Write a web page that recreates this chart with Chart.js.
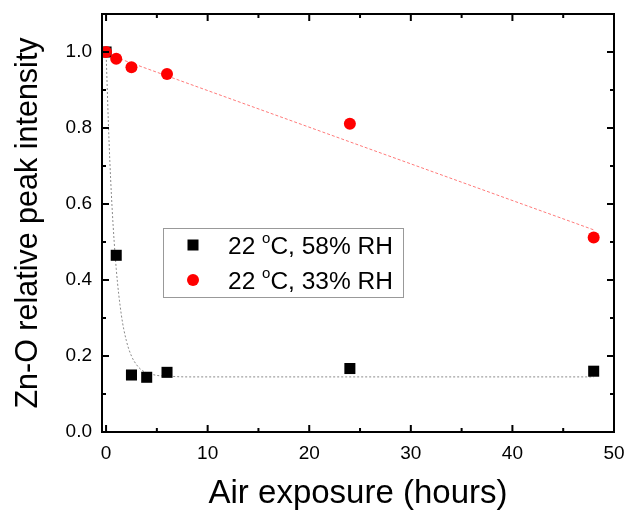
<!DOCTYPE html>
<html><head><meta charset="utf-8">
<script src="https://cdn.jsdelivr.net/npm/chart.js@4/dist/chart.umd.min.js"></script>
<style>html,body{margin:0;padding:0;background:#fff}</style>
</head><body>
<canvas id="c" width="631" height="514"></canvas>
<script>
// Data
const hours58 = [0, 1, 2.5, 4, 6, 24, 48];
const rel58   = [1.0, 0.465, 0.15, 0.144, 0.157, 0.167, 0.16];
const hours33 = [0, 1, 2.5, 6, 24, 48];
const rel33   = [1.0, 0.982, 0.96, 0.942, 0.811, 0.512];
// fitted curves
const fit58X = [0, 0.3, 0.6, 1.0, 1.5, 2.0, 2.5, 3.0, 3.5, 4, 5, 6, 8, 48];
const fit58Y = [1.0, 0.76, 0.587, 0.43, 0.309, 0.24, 0.2, 0.177, 0.163, 0.156, 0.149, 0.147, 0.145, 0.145];
const fit33X = [0, 48];
const fit33Y = [0.995, 0.532];
const xTicks = [0, 10, 20, 30, 40, 50];
const xMinorTicks = [5, 15, 25, 35, 45];
const yTicks = [0.0, 0.2, 0.4, 0.6, 0.8, 1.0];
const yMinorTicks = [0.1, 0.3, 0.5, 0.7, 0.9];
const legendLabels = ["58% RH", "33% RH"];

const FONT = '"Liberation Sans", Arial, sans-serif';
const pts = (xs, ys) => xs.map((x, i) => ({x, y: ys[i]}));

const framePlugin = {
  id: 'frame',
  afterDatasetsDraw(chart) {
    const {ctx, chartArea: a, scales: {x, y}} = chart;
    ctx.save();
    ctx.strokeStyle = '#000';
    ctx.lineWidth = 2;
    ctx.strokeRect(a.left, a.top, a.right - a.left, a.bottom - a.top);
    const tick = (v, len, axis) => {
      ctx.beginPath();
      if (axis === 'x') {
        const p = x.getPixelForValue(v);
        ctx.moveTo(p, a.bottom); ctx.lineTo(p, a.bottom - len);
        ctx.moveTo(p, a.top); ctx.lineTo(p, a.top + len);
      } else {
        const p = y.getPixelForValue(v);
        ctx.moveTo(a.left, p); ctx.lineTo(a.left + len, p);
        ctx.moveTo(a.right, p); ctx.lineTo(a.right - len, p);
      }
      ctx.stroke();
    };
    xTicks.forEach(v => tick(v, 7, 'x'));
    xMinorTicks.forEach(v => tick(v, 4, 'x'));
    yTicks.forEach(v => tick(v, 7, 'y'));
    yMinorTicks.forEach(v => tick(v, 4, 'y'));

    // legend
    const lx = 163, ly = 228, lw = 240, lh = 69;
    ctx.fillStyle = '#fff';
    ctx.fillRect(lx, ly, lw, lh);
    ctx.strokeStyle = '#999';
    ctx.lineWidth = 1;
    ctx.strokeRect(lx + 0.5, ly + 0.5, lw, lh);
    ctx.fillStyle = '#000';
    ctx.fillRect(193 - 5.5, 245 - 5.5, 11, 11);
    ctx.fillStyle = '#f00';
    ctx.beginPath(); ctx.arc(193, 280, 6, 0, Math.PI * 2); ctx.fill();
    ctx.fillStyle = '#000';
    ctx.textBaseline = 'alphabetic';
    const drawEntry = (yy, label) => {
      ctx.font = '24.5px ' + FONT;
      let px = 228;
      ctx.fillText('22 ', px, yy); px += ctx.measureText('22 ').width;
      ctx.font = '15px ' + FONT;
      ctx.fillText('o', px, yy - 11); px += ctx.measureText('o').width;
      ctx.font = '24.5px ' + FONT;
      ctx.fillText('C, ' + label, px, yy);
    };
    drawEntry(254, legendLabels[0]);
    drawEntry(289, legendLabels[1]);
    ctx.restore();
  }
};

new Chart(document.getElementById('c'), {
  type: 'scatter',
  data: {
    datasets: [
      {data: pts(hours33, rel33), pointStyle: 'circle', pointRadius: 6, pointHoverRadius: 6,
       backgroundColor: '#ff0000', borderColor: '#ff0000', borderWidth: 0, order: 0},
      {data: pts(hours58, rel58), pointStyle: 'rect', pointRadius: 7.8, pointHoverRadius: 7.8,
       backgroundColor: '#000', borderColor: '#000', borderWidth: 0, order: 1},
      {data: pts(fit33X, fit33Y), showLine: true, pointRadius: 0, borderColor: '#ff7a7a',
       borderWidth: 1, borderDash: [3, 2], fill: false, order: 2},
      {data: pts(fit58X, fit58Y), showLine: true, pointRadius: 0, borderColor: '#8a8a8a',
       borderWidth: 1, borderDash: [2, 2], cubicInterpolationMode: 'monotone', fill: false, order: 3}
    ]
  },
  options: {
    responsive: false,
    animation: false,
    events: [],
    layout: {padding: {top: 14, right: 17, left: 0, bottom: 0}},
    plugins: {legend: {display: false}, tooltip: {enabled: false}},
    scales: {
      x: {
        type: 'linear', min: -0.4, max: 50,
        afterBuildTicks: s => { s.ticks = xTicks.map(v => ({value: v})); },
        afterFit: s => { s.height = 82; s.paddingLeft = 0; s.paddingRight = 0; },
        grid: {display: false, drawTicks: false},
        border: {display: false},
        ticks: {color: '#000', padding: 10, font: {family: FONT, size: 19},
                callback: v => String(v)},
        title: {display: true, text: 'Air exposure (hours)', color: '#000',
                font: {family: FONT, size: 33}, padding: {top: 1, bottom: 0}}
      },
      y: {
        type: 'linear', min: 0, max: 1.1,
        afterBuildTicks: s => { s.ticks = yTicks.map(v => ({value: v})); },
        afterFit: s => { s.width = 102; s.paddingTop = 0; s.paddingBottom = 0; },
        grid: {display: false, drawTicks: false},
        border: {display: false},
        ticks: {color: '#000', padding: 10, font: {family: FONT, size: 19},
                callback: v => Number(v).toFixed(1)},
        title: {display: true, text: 'Zn-O relative peak intensity', color: '#000',
                font: {family: FONT, size: 30.5}, padding: {top: 10, bottom: 0}}
      }
    }
  },
  plugins: [framePlugin]
});
</script>
</body></html>
